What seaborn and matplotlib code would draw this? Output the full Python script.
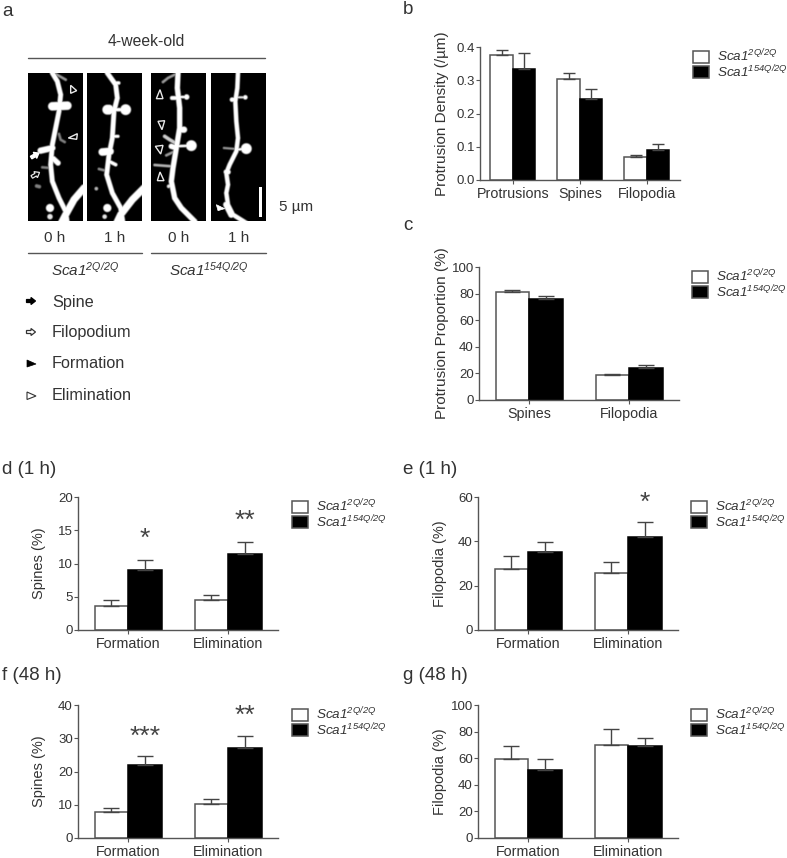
import numpy as np
import pandas as pd
import seaborn as sns
import matplotlib
matplotlib.use('Agg')
import matplotlib.pyplot as plt
from matplotlib.patches import Patch, Polygon

W, H = 787, 858

sns.set_theme(style='ticks')
plt.rcParams['font.family'] = ['Liberation Sans', 'DejaVu Sans']
plt.rcParams['mathtext.fontset'] = 'custom'
plt.rcParams['mathtext.rm'] = 'Liberation Sans:italic'
plt.rcParams['mathtext.it'] = 'Liberation Sans:italic'

TXT = '#333333'
LINE = '#555555'
WT = r'$\mathit{Sca1}^{\mathit{2Q/2Q}}$'
MUT = r'$\mathit{Sca1}^{\mathit{154Q/2Q}}$'

# bar data
cats_b = ['Protrusions', 'Spines', 'Filopodia']
wt_b = [0.375, 0.305, 0.070]
mut_b = [0.334, 0.245, 0.090]
wt_err_b = [0.017, 0.016, 0.005]
mut_err_b = [0.047, 0.028, 0.019]

cats_c = ['Spines', 'Filopodia']
wt_c = [81.5, 18.7]
mut_c = [76.0, 24.0]
wt_err_c = [1.0, 1.1]
mut_err_c = [2.5, 2.3]

cats_fe = ['Formation', 'Elimination']
wt_d = [3.6, 4.5]
mut_d = [9.0, 11.5]
wt_err_d = [0.9, 0.8]
mut_err_d = [1.6, 1.7]

wt_e = [27.5, 25.5]
mut_e = [35.3, 42.0]
wt_err_e = [5.7, 5.0]
mut_err_e = [4.2, 6.5]

wt_f = [7.7, 10.2]
mut_f = [21.9, 27.2]
wt_err_f = [1.3, 1.5]
mut_err_f = [2.9, 3.6]

wt_g = [59.5, 70.0]
mut_g = [51.0, 69.0]
wt_err_g = [9.5, 12.0]
mut_err_g = [8.5, 6.5]

fig = plt.figure(figsize=(W / 100, H / 100), dpi=100)


def px_axes(x0, y0, x1, y1, **kw):
    return fig.add_axes([x0 / W, 1 - y1 / H, (x1 - x0) / W, (y1 - y0) / H], **kw)


def bar_panel(box, cats, wt, mut, wt_err, mut_err, ylim, yticks, ylabel, xlim, cap, label_x, legend_xy, fmt='%g', label_size=10.5):
    ax = px_axes(*box)
    df = pd.DataFrame({
        'cat': cats * 2,
        'val': wt + mut,
        'geno': ['wt'] * len(cats) + ['mut'] * len(cats),
    })
    sns.barplot(data=df, x='cat', y='val', hue='geno', palette=['white', 'black'],
                width=0.67, gap=0, errorbar=None, legend=False, ax=ax)
    edges = [LINE, 'black']
    for cont, errs, ec in zip(ax.containers, [wt_err, mut_err], edges):
        xs = []
        tops = []
        for p in cont.patches:
            p.set_edgecolor(ec)
            p.set_linewidth(1.1)
            xs.append(p.get_x() + p.get_width() / 2)
            tops.append(p.get_height())
        ax.errorbar(xs, tops, yerr=[np.zeros(len(errs)), errs], fmt='none', ecolor='#444444',
                    elinewidth=1.0, capsize=cap, capthick=1.0, zorder=1)
    ax.set_xlim(*xlim)
    ax.set_ylim(*ylim)
    ax.set_yticks(yticks)
    ax.set_yticklabels([fmt % t for t in yticks])
    ax.set_xlabel('')
    ax.set_ylabel(ylabel, fontsize=label_size, color=TXT)
    ax.yaxis.set_label_coords((label_x - box[0]) / (box[2] - box[0]), 0.5)
    ax.tick_params(axis='y', length=3, width=0.8, color=LINE, labelsize=9.5, labelcolor=TXT, pad=0.8)
    ax.tick_params(axis='x', length=3, width=0.8, color=LINE, labelsize=10.3, labelcolor=TXT, pad=1.8)
    ax.patch.set_alpha(0)
    sns.despine(ax=ax)
    for s in ['left', 'bottom']:
        ax.spines[s].set_color(LINE)
        ax.spines[s].set_linewidth(1.0)
    handles = [Patch(facecolor='white', edgecolor=LINE, linewidth=1.1),
               Patch(facecolor='black', edgecolor=LINE, linewidth=1.1)]
    ax.legend(handles, [WT, MUT], loc='upper left',
              bbox_to_anchor=(legend_xy[0] / W, 1 - (legend_xy[1] - 3) / H), bbox_transform=fig.transFigure,
              frameon=False, fontsize=9.7, handlelength=1.18, handleheight=1.0,
              labelspacing=-0.1, handletextpad=0.58, borderpad=0, borderaxespad=0, labelcolor=TXT)
    return ax


def stars(ax, cont_i, bar_i, y, s):
    p = ax.containers[cont_i].patches[bar_i]
    ax.text(p.get_x() + p.get_width() / 2, y, s, ha='center', va='center', fontsize=19, color='#444444')


ax_b = bar_panel((480, 47, 680, 180), cats_b, wt_b, mut_b, wt_err_b, mut_err_b, (0, 0.4),
                 [0, 0.1, 0.2, 0.3, 0.4], 'Protrusion Density (/µm)', (-0.49, 2.495), 4.2, 449, (693, 51), '%.1f', 11)
ax_c = bar_panel((479, 267, 679, 400), cats_c, wt_c, mut_c, wt_err_c, mut_err_c, (0, 100),
                 [0, 20, 40, 60, 80, 100], 'Protrusion Proportion (%)', (-0.5, 1.5), 6, 449, (692, 271), '%g', 11)
ax_d = bar_panel((78, 497, 278, 630), cats_fe, wt_d, mut_d, wt_err_d, mut_err_d, (0, 20),
                 [0, 5, 10, 15, 20], 'Spines (%)', (-0.5, 1.5), 6, 46, (292, 501))
ax_e = bar_panel((478, 497, 678, 630), cats_fe, wt_e, mut_e, wt_err_e, mut_err_e, (0, 60),
                 [0, 20, 40, 60], 'Filopodia (%)', (-0.5, 1.5), 6, 447, (691, 501))
ax_f = bar_panel((78, 705, 278, 838), cats_fe, wt_f, mut_f, wt_err_f, mut_err_f, (0, 40),
                 [0, 10, 20, 30, 40], 'Spines (%)', (-0.5, 1.5), 6, 46, (292, 709))
ax_g = bar_panel((478, 705, 678, 838), cats_fe, wt_g, mut_g, wt_err_g, mut_err_g, (0, 100),
                 [0, 20, 40, 60, 80, 100], 'Filopodia (%)', (-0.5, 1.5), 6, 447, (691, 709))

stars(ax_d, 1, 0, 13.7, '*')
stars(ax_d, 1, 1, 16.4, '**')
stars(ax_e, 1, 1, 57.3, '*')
stars(ax_f, 1, 0, 30.4, '***')
stars(ax_f, 1, 1, 36.6, '**')

# micrographs of panel a, sketched as soft strokes: (points, radius, brightness), zoom-crop units
den_1 = [
    ([(85, 15), (100, 40), (110, 80), (105, 130), (95, 180), (85, 230), (80, 290), (85, 340), (105, 390), (125, 430), (130, 465)], 5.5, 1),
    ([(180, 360), (150, 395), (125, 440), (112, 465)], 8, 1),
    ([(85, 115), (130, 113)], 9.5, 1),
    ([(50, 248), (85, 240)], 7, 1),
    ([(88, 272), (102, 285)], 6, 1),
    ([(105, 198), (110, 215), (122, 222)], 3, 0.5),
    ([(55, 298), (80, 300)], 3, 0.5),
    ([(38, 354), (46, 356)], 4, 0.5),
    ([(78, 420), (78, 420)], 9, 1),
    ([(78, 446), (78, 446)], 6, 0.9),
    ([(95, 18), (125, 35)], 3, 0.6),
]
den_2 = [
    ([(250, 15), (275, 50), (280, 90), (270, 130), (265, 210), (255, 260), (248, 320), (265, 375), (290, 420), (297, 465)], 5.5, 1),
    ([(360, 360), (325, 395), (290, 440), (278, 465)], 8, 1),
    ([(250, 125), (255, 125)], 11, 1),
    ([(255, 125), (305, 125)], 4, 1),
    ([(305, 125), (305, 125)], 12, 1),
    ([(235, 252), (258, 250)], 8.5, 1),
    ([(255, 280), (275, 290)], 4, 1),
    ([(270, 205), (282, 205)], 3.5, 1),
    ([(225, 303), (245, 308)], 3, 0.55),
    ([(217, 362), (217, 362)], 4, 0.7),
    ([(250, 420), (250, 420)], 9, 1),
    ([(242, 446), (242, 446)], 5, 0.9),
    ([(275, 45), (284, 45)], 4, 1),
]
den_3 = [
    ([(90, 15), (88, 60), (95, 120), (95, 180), (85, 240), (75, 300), (70, 340), (80, 390), (100, 420), (140, 460)], 6, 1),
    ([(45, 42), (60, 30), (80, 20)], 3, 0.6),
    ([(72, 90), (88, 90)], 4.5, 1),
    ([(95, 87), (115, 87)], 3, 1),
    ([(116, 87), (116, 87)], 6, 1),
    ([(100, 185), (108, 185)], 7, 1),
    ([(75, 235), (130, 233)], 3, 1),
    ([(130, 233), (130, 233)], 12, 1),
    ([(50, 205), (65, 215), (82, 225)], 4, 0.8),
    ([(55, 262), (80, 250)], 3, 0.6),
    ([(20, 291), (72, 295)], 3, 0.7),
    ([(62, 355), (72, 350)], 4, 0.9),
    ([(70, 235), (85, 240)], 6, 1),
]
den_4 = [
    ([(270, 15), (268, 60), (262, 100), (265, 160), (270, 210), (265, 250), (245, 290), (235, 315), (240, 350), (235, 375), (240, 410), (255, 440), (295, 465)], 5, 1),
    ([(265, 88), (292, 88)], 2.5, 0.9),
    ([(292, 88), (292, 88)], 5, 1),
    ([(295, 242), (295, 242)], 12, 1),
    ([(265, 245), (295, 242)], 3, 1),
    ([(228, 240), (265, 243)], 2.5, 0.6),
    ([(252, 95), (262, 95)], 5, 1),
    ([(235, 312), (240, 312)], 6, 1),
    ([(235, 410), (250, 440)], 7, 1),
]


def micro(box, strokes, origin):
    x0, y0, x1, y1 = box
    zx = np.arange((x0 - origin[0]) * 3, (x1 - origin[0]) * 3)
    zy = np.arange((y0 - origin[1]) * 3, (y1 - origin[1]) * 3)
    xx, yy = np.meshgrid(zx + 0.5, zy + 0.5)
    img = np.zeros(xx.shape)
    for pts, r, b in strokes:
        r = r * 1.35
        pts = np.array(pts, dtype=float)
        for a, c in zip(pts[:-1], pts[1:]):
            d = c - a
            t = ((xx - a[0]) * d[0] + (yy - a[1]) * d[1]) / max((d ** 2).sum(), 1e-6)
            t = np.clip(t, 0, 1)
            dist = np.hypot(xx - a[0] - t * d[0], yy - a[1] - t * d[1])
            img = np.maximum(img, b * np.clip((r - dist) / 5 + 0.5, 0, 1))
    ax = px_axes(x0, y0, x1, y1)
    ax.imshow(img, cmap='gray', vmin=0, vmax=1, aspect='auto', interpolation='bilinear')
    ax.axis('off')


micro((28, 73, 83, 221), den_1, (24, 68))
micro((87, 73, 142, 221), den_2, (24, 68))
micro((151, 73, 206, 221), den_3, (148, 68))
micro((211, 73, 266, 221), den_4, (148, 68))

# overlay in figure pixels for annotations
ov = fig.add_axes([0, 0, 1, 1], zorder=10)
ov.set_xlim(0, W)
ov.set_ylim(H, 0)
ov.axis('off')
ov.patch.set_alpha(0)


def tx(x, y, s, size=11, ha='left', **kw):
    ov.text(x, y, s, fontsize=size, ha=ha, va='center', color=TXT, **kw)


for x0, x1, y in [(28, 265, 58), (28, 142, 253), (151, 266, 253)]:
    ov.plot([x0, x1], [y, y], color=LINE, lw=1.0)

tx(146, 42, '4-week-old', size=11.3, ha='center')
for x, s in [(55, '0 h'), (115, '1 h'), (179, '0 h'), (239, '1 h')]:
    tx(x, 238, s, ha='center')
tx(85, 270, WT, size=11, ha='center')
tx(209, 270, MUT, size=11, ha='center')
tx(279, 207, '5 µm')
for y, s in [(302, 'Spine'), (333, 'Filopodium'), (364, 'Formation'), (396, 'Elimination')]:
    tx(52, y, s, size=11.7)

tx(2, 11, 'a', size=13.5)
tx(403, 9, 'b', size=13.5)
tx(403, 226, 'c', size=13.5)
tx(2, 469, 'd (1 h)', size=13.5)
tx(403, 469, 'e (1 h)', size=13.5)
tx(2, 676, 'f (48 h)', size=13.5)
tx(403, 676, 'g (48 h)', size=13.5)


def z1(pts):
    return [(24 + x / 3, 68 + y / 3) for x, y in pts]


def z3(pts):
    return [(148 + x / 3, 68 + y / 3) for x, y in pts]


arrow = np.array([(-4.5, -1.5), (0, -1.5), (0, -3.5), (4.5, 0), (0, 3.5), (0, 1.5), (-4.5, 1.5)])


def rot_arrow(cx, cy, ang, fc, ec, s=1.0):
    c, sn = np.cos(np.radians(ang)), np.sin(np.radians(ang))
    p = np.c_[arrow[:, 0] * c - arrow[:, 1] * sn, arrow[:, 0] * sn + arrow[:, 1] * c] * s + [cx, cy]
    ov.add_patch(Polygon(p, closed=True, facecolor=fc, edgecolor=ec, lw=0.9))


# open arrowheads on the images
for tri in [z1([(140, 52), (158, 68), (140, 76)]), z1([(133, 210), (160, 197), (158, 214)]),
            z3([(25, 92), (45, 92), (36, 65)]), z3([(30, 160), (50, 158), (42, 185)]),
            z3([(22, 235), (45, 232), (38, 258)]), z3([(28, 338), (48, 338), (36, 312)])]:
    ov.add_patch(Polygon(tri, closed=True, facecolor='black', edgecolor='#e8e8e8', lw=1.0))
ov.add_patch(Polygon(z3([(205, 410), (230, 422), (210, 428)]), closed=True, facecolor='white', edgecolor='white', lw=0.5))
rot_arrow(24 + 33 / 3, 68 + 262 / 3, -30, 'white', 'white')
rot_arrow(24 + 35 / 3, 68 + 320 / 3, -30, 'black', '#e8e8e8')
ov.add_patch(Polygon([(258.7, 187), (262.3, 187), (262.3, 217), (258.7, 217)], closed=True, facecolor='white', edgecolor='none'))

# key of panel a
rot_arrow(31, 301, 0, 'black', 'black')
rot_arrow(31, 332, 0, 'white', '#333333')
ov.add_patch(Polygon([(27, 360), (36, 364), (27, 367)], closed=True, facecolor='black', edgecolor='black', lw=0.5))
ov.add_patch(Polygon([(27, 392), (36, 396), (27, 399.5)], closed=True, facecolor='white', edgecolor='#333333', lw=0.8))

fig.savefig('out.png', dpi=100)
